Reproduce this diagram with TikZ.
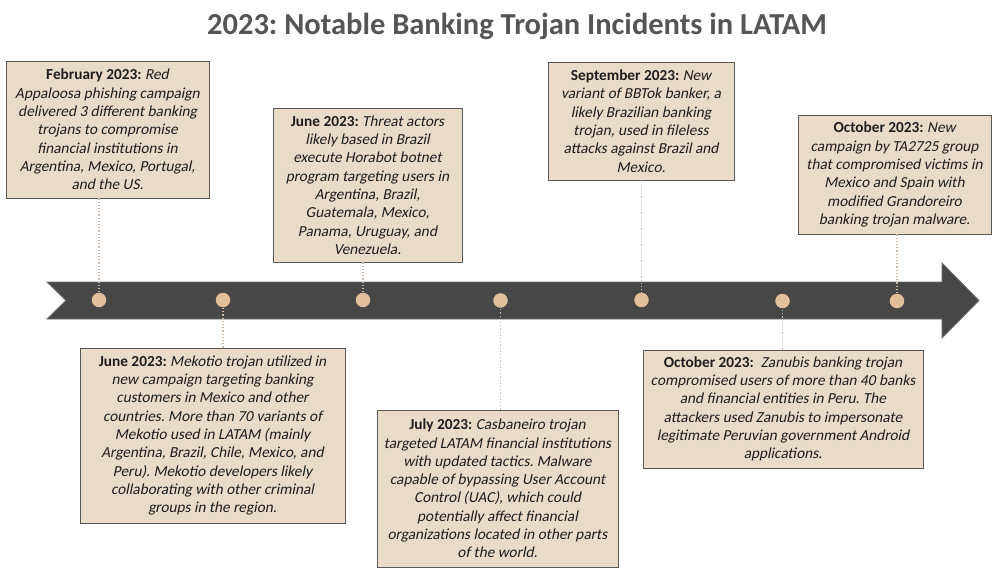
\documentclass[tikz,border=0pt]{standalone}
\usepackage{fontspec}
\setmainfont{Carlito}[ItalicFont={Carlito},ItalicFeatures={FakeSlant=0.2},BoldFont={Carlito Bold}]
\frenchspacing
\definecolor{band}{HTML}{474747}
\definecolor{bandedge}{HTML}{6E6E6E}
\definecolor{boxfill}{HTML}{EADBC8}
\definecolor{boxedge}{HTML}{5A5A5A}
\definecolor{dotfill}{HTML}{E3BE9A}
\definecolor{conn}{HTML}{C9BBA7}
\definecolor{titlec}{HTML}{555555}
\definecolor{txt}{HTML}{1E1E1E}
\begin{document}
\begin{tikzpicture}[x=1pt,y=-1pt,
  evbox/.style={draw=boxedge,line width=0.9pt,fill=boxfill,align=center,inner sep=2pt,
    font=\fontsize{15.3}{18.3}\selectfont,text=txt,anchor=center},
  tdot/.style={circle,fill=dotfill,inner sep=0pt,minimum size=14.5pt},
  conn/.style={draw=conn,line width=1.2pt,dotted}]
\useasboundingbox (0,0) rectangle (1000,585);
\fill[white] (0,0) rectangle (1000,585);
% title
\node[font=\fontsize{30.5}{34}\selectfont\bfseries,text=titlec] (title) at (517,26) {2023: Notable Banking Trojan Incidents in LATAM};
% band arrow
\filldraw[fill=band,draw=bandedge,line width=0.8pt] (47,282) -- (942,282) -- (942,263) -- (979,300.5) -- (942,338) -- (942,319) -- (47,319) -- (66,300.5) -- cycle;
% boxes
\node[evbox,minimum width=203pt,minimum height=137pt] (b1) at (107.5,129.5)
{\textbf{February 2023:} \textit{Red}\\ \textit{Appaloosa phishing campaign}\\ \textit{delivered 3 different banking}\\ \textit{trojans to compromise}\\ \textit{financial institutions in}\\ \textit{Argentina, Mexico, Portugal,}\\ \textit{and the US.}};
\node[evbox,minimum width=189pt,minimum height=154pt] (b2) at (367.5,185)
{\textbf{June 2023:} \textit{Threat actors}\\ \textit{likely based in Brazil}\\ \textit{execute Horabot botnet}\\ \textit{program targeting users in}\\ \textit{Argentina, Brazil,}\\ \textit{Guatemala, Mexico,}\\ \textit{Panama, Uruguay, and}\\ \textit{Venezuela.}};
\node[evbox,minimum width=186pt,minimum height=118pt] (b3) at (641,121)
{\textbf{September 2023:} \textit{New}\\ \textit{variant of BBTok banker, a}\\ \textit{likely Brazilian banking}\\ \textit{trojan, used in fileless}\\ \textit{attacks against Brazil and}\\ \textit{Mexico.}};
\node[evbox,minimum width=193pt,minimum height=119pt] (b4) at (894.5,174.5)
{\textbf{October 2023:} \textit{New}\\ \textit{campaign by TA2725 group}\\ \textit{that compromised victims in}\\ \textit{Mexico and Spain with}\\ \textit{modified Grandoreiro}\\ \textit{banking trojan malware.}};
\node[evbox,minimum width=265pt,minimum height=175pt] (b5) at (212.5,435.5)
{\textbf{June 2023:} \textit{Mekotio trojan utilized in}\\ \textit{new campaign targeting banking}\\ \textit{customers in Mexico and other}\\ \textit{countries. More than 70 variants of}\\ \textit{Mekotio used in LATAM (mainly}\\ \textit{Argentina, Brazil, Chile, Mexico, and}\\ \textit{Peru). Mekotio developers likely}\\ \textit{collaborating with other criminal}\\ \textit{groups in the region.}};
\node[evbox,minimum width=241pt,minimum height=157pt] (b6) at (497.5,488.5)
{\textbf{July 2023:} \textit{Casbaneiro trojan}\\ \textit{targeted LATAM financial institutions}\\ \textit{with updated tactics. Malware}\\ \textit{capable of bypassing User Account}\\ \textit{Control (UAC), which could}\\ \textit{potentially affect financial}\\ \textit{organizations located in other parts}\\ \textit{of the world.}};
\node[evbox,minimum width=280pt,minimum height=118pt] (b7) at (783,409)
{\textbf{October 2023:}\ \ \textit{Zanubis banking trojan}\\ \textit{compromised users of more than 40 banks}\\ \textit{and financial entities in Peru. The}\\ \textit{attackers used Zanubis to impersonate}\\ \textit{legitimate Peruvian government Android}\\ \textit{applications.}};
% dots
\node[tdot] (d1) at (99,300) {};
\node[tdot] (d2) at (223,300) {};
\node[tdot] (d3) at (363,300) {};
\node[tdot] (d4) at (500.5,300.5) {};
\node[tdot] (d5) at (641.5,300) {};
\node[tdot] (d6) at (782.5,301) {};
\node[tdot] (d7) at (897,301) {};
% connectors
\draw[conn] (b1.south -| d1) -- (d1.north);
\draw[conn] (b2.south -| d3) -- (d3.north);
\draw[conn] (b3.south -| d5) -- (d5.north);
\draw[conn] (b4.south -| d7) -- (d7.north);
\draw[conn] (b5.north -| d2) -- (d2.south);
\draw[conn] (b6.north -| d4) -- (d4.south);
\draw[conn] (b7.north -| d6) -- (d6.south);
\end{tikzpicture}
\end{document}
